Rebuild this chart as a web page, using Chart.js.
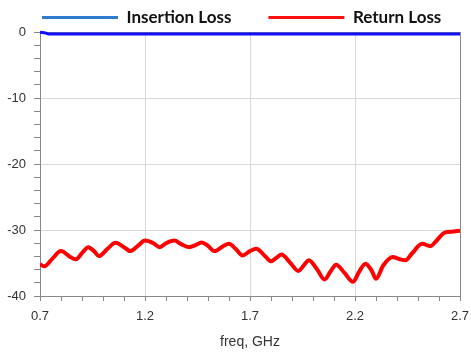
<!DOCTYPE html>
<html>
<head>
<meta charset="utf-8">
<script src="https://cdn.jsdelivr.net/npm/chart.js@4"></script>
<style>
  body { margin: 0; background: #fff; }
</style>
</head>
<body>
<canvas id="lossChart" width="471" height="357"></canvas>
<script>
// (GHz, dB)
const ilFreq = [0.70, 0.72, 0.74, 1.20, 2.20, 2.70];
const insertionLoss = [-0.05, -0.1, -0.3, -0.3, -0.3, -0.3];

const rlFreq = [0.70, 0.72, 0.76, 0.80, 0.84, 0.87, 0.90, 0.93, 0.96, 0.98,
  1.02, 1.06, 1.10, 1.13, 1.17, 1.20, 1.24, 1.27, 1.30, 1.34,
  1.37, 1.41, 1.44, 1.47, 1.50, 1.53, 1.57, 1.60, 1.63, 1.665,
  1.70, 1.73, 1.77, 1.80, 1.83, 1.85, 1.89, 1.93, 1.96, 1.98,
  2.02, 2.055, 2.085, 2.11, 2.15, 2.19, 2.22, 2.25, 2.28, 2.30,
  2.335, 2.38, 2.41, 2.44, 2.47, 2.52, 2.56, 2.58, 2.63, 2.66, 2.70];
const returnLoss = [-35.2, -35.5, -34.3, -33.2, -34.0, -34.45, -33.5, -32.6, -33.3, -33.95,
  -32.9, -31.95, -32.6, -33.2, -32.3, -31.6, -32.0, -32.6, -32.0, -31.6,
  -32.1, -32.6, -32.3, -31.9, -32.4, -33.2, -32.5, -32.1, -32.8, -33.85,
  -33.2, -32.85, -33.9, -34.75, -34.1, -33.7, -34.9, -36.2, -35.2, -34.6,
  -36.0, -37.5, -36.2, -35.25, -36.5, -37.85, -36.3, -35.1, -36.2, -37.4,
  -35.35, -34.1, -34.4, -34.6, -33.6, -32.1, -32.45, -31.9, -30.35, -30.25, -30.1];

const seriesNames = ['Insertion Loss', 'Return Loss'];
const xLabels = [0.7, 1.2, 1.7, 2.2, 2.7];
const yLabels = [0, -10, -20, -30, -40];

const toPoints = (xs, ys) => xs.map((x, i) => ({ x: x, y: ys[i] }));
const isXLabel = v => xLabels.some(l => Math.abs(l - v) < 1e-6);
const isYLabel = v => yLabels.some(l => Math.abs(l - v) < 1e-6);

const legendColors = ['#2e7bcf', '#ff1010'];

// legend sits tight above the plot, one row, wide gaps between items
const legendNudge = {
  id: 'legendNudge',
  beforeInit(chart) {
    const fit = chart.legend.fit;
    chart.legend.fit = function () {
      this.maxWidth = 1000;
      fit.call(this);
      this.height = 32;
    };
  },
  afterLayout(chart) {
    chart.legend.top = -28;
    chart.legend.left = 5;
    chart.legend.right = 1000;
  }
};

new Chart(document.getElementById('lossChart').getContext('2d'), {
  type: 'line',
  data: {
    datasets: [
      {
        label: seriesNames[0],
        data: toPoints(ilFreq, insertionLoss),
        borderColor: '#1010ff',
        borderWidth: 3,
        pointRadius: 0,
        tension: 0,
        clip: false
      },
      {
        label: seriesNames[1],
        data: toPoints(rlFreq, returnLoss),
        borderColor: '#ff0000',
        borderWidth: 4,
        pointRadius: 0,
        cubicInterpolationMode: 'monotone'
      }
    ]
  },
  options: {
    responsive: false,
    animation: false,
    layout: { padding: { left: 0, right: 11, top: 0, bottom: 0 } },
    plugins: {
      tooltip: { enabled: false },
      legend: {
        position: 'top',
        align: 'start',
        labels: {
          boxWidth: 76,
          boxHeight: 3,
          padding: 37,
          color: '#111',
          font: { family: 'Lato', size: 17, weight: 'bold' },
          generateLabels(chart) {
            return chart.data.datasets.map((ds, i) => ({
              text: ds.label,
              fillStyle: legendColors[i],
              strokeStyle: legendColors[i],
              lineWidth: 0,
              datasetIndex: i,
              fontColor: '#111'
            }));
          }
        }
      }
    },
    scales: {
      x: {
        type: 'linear',
        min: 0.7,
        max: 2.7,
        afterFit(scale) {
          scale.height = 61;
          scale.paddingLeft = 0;
          scale.paddingRight = 0;
        },
        ticks: {
          stepSize: 0.1,
          autoSkip: false,
          maxRotation: 0,
          padding: 8,
          color: '#333',
          font: { family: 'Liberation Sans', size: 13 },
          callback: v => isXLabel(v) ? String(Math.round(v * 10) / 10) : ''
        },
        grid: {
          tickLength: 5,
          tickColor: '#888',
          color: ctx => {
            const v = ctx.tick ? ctx.tick.value : 0;
            if (Math.abs(v - 2.7) < 1e-6) return '#888';
            return isXLabel(v) ? '#d9d9d9' : 'rgba(0,0,0,0)';
          }
        },
        border: { color: '#888', width: 1 },
        title: {
          display: true,
          text: 'freq, GHz',
          color: '#333',
          padding: { top: 4, bottom: 6 },
          font: { family: 'Liberation Sans', size: 14 }
        }
      },
      y: {
        min: -40,
        max: 0,
        afterFit(scale) { scale.width = 40; },
        ticks: {
          stepSize: 2,
          autoSkip: false,
          padding: 8,
          color: '#333',
          font: { family: 'Liberation Sans', size: 13 },
          callback: v => isYLabel(v) ? String(v) : ''
        },
        grid: {
          tickLength: 6,
          tickColor: '#888',
          color: ctx => {
            const v = ctx.tick ? ctx.tick.value : 0;
            if (v === 0) return '#888';
            return isYLabel(v) ? '#d9d9d9' : 'rgba(0,0,0,0)';
          }
        },
        border: { color: '#888', width: 1 }
      }
    }
  },
  plugins: [legendNudge]
});
</script>
</body>
</html>
